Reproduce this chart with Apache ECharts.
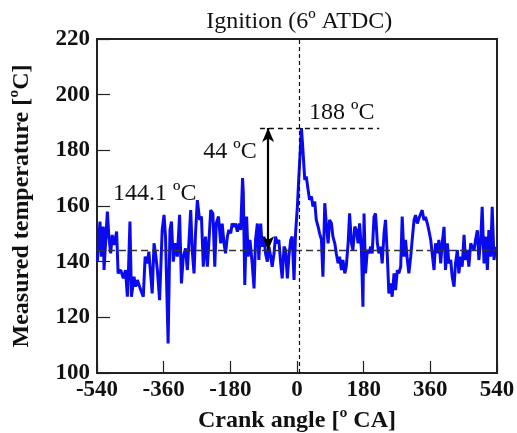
<!DOCTYPE html>
<html>
<head>
<meta charset="utf-8">
<script src="https://cdn.jsdelivr.net/npm/echarts@6/dist/echarts.min.js"></script>
<style>
  html, body { margin: 0; padding: 0; background: #fff; }
  #chart { width: 517px; height: 433px; }
</style>
</head>
<body>
<div id="chart"></div>
<script>
// Crank angle [deg CA] and measured gas temperature [degC]
const crankAngle = [
  -539, -532, -528, -523, -521, -512, -508, -503, -499, -494, -487, -483, -476, -469, -463, -458, -455, -451, -447,
  -440, -436, -431, -422, -415, -410, -404, -400, -391, -386, -382, -377, -371, -364, -359, -355, -348, -343, -339,
  -334, -328, -323, -317, -312, -307, -301, -296, -292, -287, -283, -278, -274, -269, -263, -258, -253, -247, -242,
  -237, -233, -227, -222, -218, -212, -206, -202, -197, -193, -188, -184, -179, -175, -170, -166, -161, -156, -152,
  -147, -145, -141, -136, -132, -127, -121, -116, -112, -107, -103, -98, -94, -89, -85, -80, -76, -71, -67, -62,
  -58, -53, -49, -44, -40, -35, -31, -26, -22, -17, -13, -8, -4, 1, 5, 12, 16, 21, 25, 30, 34, 39, 43, 48, 52, 57,
  61, 66, 70, 75, 79, 84, 88, 93, 97, 102, 106, 111, 115, 120, 124, 129, 133, 138, 142, 147, 151, 156, 160, 165,
  169, 174, 178, 181, 185, 190, 194, 199, 203, 208, 212, 217, 221, 226, 230, 235, 239, 244, 248, 253, 257, 262,
  266, 271, 275, 280, 284, 289, 293, 298, 302, 307, 311, 316, 320, 325, 329, 334, 338, 343, 347, 352, 356, 361,
  365, 370, 374, 379, 383, 388, 392, 397, 401, 406, 410, 415, 419, 424, 428, 433, 437, 442, 446, 451, 455, 460,
  464, 469, 473, 478, 482, 487, 491, 496, 500, 505, 509, 514, 518, 523, 527, 532, 536, 539
];
const temperature = [
  140.0, 154.4, 141.8, 152.6, 137.0, 158.0, 149.0, 143.0, 149.6, 146.0, 150.8, 135.8, 137.0, 134.0, 137.0, 127.4, 137.0, 154.4, 127.4,
  134.6, 131.0, 133.4, 129.8, 127.4, 141.8, 139.4, 143.6, 128.6, 146.6, 143.0, 137.0, 126.2, 151.4, 156.8, 149.0, 110.6, 151.4, 154.4,
  140.0, 146.6, 141.8, 156.8, 132.2, 141.8, 144.8, 137.0, 146.6, 158.5, 144.2, 135.8, 150.2, 162.1, 155.0, 156.2, 138.2, 149.0, 138.2,
  149.0, 158.5, 157.3, 138.2, 153.7, 156.2, 146.6, 153.7, 146.6, 143.0, 149.0, 151.4, 150.2, 153.7, 152.5, 153.7, 150.8, 153.7, 151.4,
  170.0, 165.0, 131.6, 156.2, 141.8, 147.8, 139.4, 130.4, 147.8, 153.7, 140.6, 153.7, 145.4, 149.0, 143.0, 140.0, 145.4, 141.8, 138.2, 143.0,
  149.0, 146.6, 147.8, 139.4, 134.0, 145.4, 144.2, 134.0, 141.8, 147.8, 149.0, 133.4, 150.0, 159.7, 170.5, 188.0, 180.1, 169.4, 170.6, 165.8, 162.2, 163.4, 159.8, 161.6, 155.0,
  152.6, 150.2, 147.8, 134.6, 161.0, 153.8, 146.6, 155.0, 153.8, 149.0, 146.6, 143.0, 139.4, 141.8, 137.0, 140.6, 135.8, 138.2, 146.6, 157.4, 146.6, 144.2, 152.6, 151.4,
  146.6, 153.8, 144.2, 123.8, 157.3, 135.8, 144.2, 143.0, 145.4, 143.0, 156.2, 157.3, 146.6, 143.0, 145.4, 139.4, 150.2, 155.0, 141.8,
  128.6, 132.2, 127.4, 135.8, 129.8, 137.0, 135.8, 138.2, 156.2, 141.8, 147.8, 140.6, 135.8, 141.8, 147.8, 154.9, 156.7, 153.7, 155.5, 154.9,
  158.5, 154.9, 156.1, 153.7, 151.3, 147.8, 143.0, 137.0, 146.6, 143.0, 147.8, 139.4, 146.6, 152.5, 137.0, 146.6, 139.4, 140.6, 134.6, 131.0,
  139.4, 144.2, 135.8, 141.8, 138.2, 149.6, 140.6, 144.2, 138.2, 146.6, 145.4, 144.2, 147.8, 151.3, 140.6, 147.8, 159.7, 139.4, 149.0, 137.0,
  151.4, 141.8, 159.7, 140.6, 145.4
];

// Reference levels and annotations
const ignitionAngle = 6;
const meanTemp = 144.1;
const peakTemp = 188;
const riseAngle = -78;
const peakLineFrom = -100;
const peakLineTo = 222;

const xTicks = { min: -540, max: 540, step: 180 };
const yTicks = { min: 100, max: 220, step: 20 };

const annotationLabels = [
  { value: [-384, 164.5], text: '144.1 ºC' },
  { value: [-181, 179.5], text: '44 ºC' },
  { value: [121, 193.5], text: '188 ºC' }
];

const serif = '"Liberation Serif", "Times New Roman", Times, serif';

const chart = echarts.init(document.getElementById('chart'), null, { renderer: 'canvas' });

chart.setOption({
  animation: false,
  backgroundColor: '#ffffff',
  grid: {
    left: 97, right: 20, top: 39, bottom: 60,
    containLabel: false, outerBoundsMode: 'none',
    show: true, borderColor: '#222', borderWidth: 2, backgroundColor: 'transparent'
  },
  xAxis: {
    type: 'value',
    min: xTicks.min, max: xTicks.max, interval: xTicks.step,
    name: 'Crank angle [º CA]',
    nameLocation: 'middle', nameGap: 36,
    nameTextStyle: { fontFamily: serif, fontWeight: 'bold', fontSize: 24, color: '#111' },
    axisLine: { show: true, onZero: false, lineStyle: { color: '#222', width: 2 } },
    axisTick: { show: true, inside: true, length: 12, lineStyle: { color: '#222', width: 1.2 } },
    axisLabel: { fontFamily: serif, fontWeight: 'bold', fontSize: 23, color: '#111', margin: 6 },
    splitLine: { show: false }
  },
  yAxis: {
    type: 'value',
    min: yTicks.min, max: yTicks.max, interval: yTicks.step,
    name: 'Measured temperature [ºC]',
    nameLocation: 'middle', nameGap: 63,
    nameTextStyle: { fontFamily: serif, fontWeight: 'bold', fontSize: 24, color: '#111' },
    axisLine: { show: true, onZero: false, lineStyle: { color: '#222', width: 2 } },
    axisTick: { show: true, inside: true, length: 13, lineStyle: { color: '#222', width: 1.2 } },
    axisLabel: { fontFamily: serif, fontWeight: 'bold', fontSize: 23, color: '#111', margin: 7 },
    splitLine: { show: false }
  },
  series: [
    {
      type: 'line',
      data: crankAngle.map((a, i) => [a, temperature[i]]),
      showSymbol: false,
      lineStyle: { color: '#0a0aee', width: 3 },
      z: 3,
      markLine: {
        silent: true,
        symbol: 'none',
        animation: false,
        data: [
          {
            xAxis: ignitionAngle,
            lineStyle: { color: '#111', type: [4, 3], width: 1.2 },
            label: {
              show: true, position: 'end', formatter: 'Ignition (6º ATDC)',
              fontFamily: serif, fontSize: 24, color: '#111', distance: 5
            }
          },
          {
            yAxis: meanTemp,
            lineStyle: { color: '#333', type: [7, 4], width: 1.3 },
            label: { show: false }
          },
          [
            { coord: [peakLineFrom, peakTemp], lineStyle: { color: '#111', type: [5, 4], width: 1.3 }, label: { show: false } },
            { coord: [peakLineTo, peakTemp] }
          ]
        ]
      }
    },
    {
      // rise from mean to peak, double-headed arrow
      type: 'line',
      data: [],
      markLine: {
        silent: true,
        symbol: ['arrow', 'arrow'],
        symbolSize: [9, 14],
        animation: false,
        data: [
          [
            { coord: [riseAngle, meanTemp], lineStyle: { color: '#000', type: 'solid', width: 2.2 }, label: { show: false } },
            { coord: [riseAngle, peakTemp] }
          ]
        ]
      }
    },
    {
      type: 'scatter',
      symbolSize: 0,
      silent: true,
      itemStyle: { opacity: 1 },
      data: annotationLabels.map(d => ({ value: d.value, name: d.text })),
      label: {
        show: true, position: 'inside',
        formatter: p => p.name,
        fontFamily: serif, fontSize: 24, color: '#111'
      }
    }
  ]
});
</script>
</body>
</html>
